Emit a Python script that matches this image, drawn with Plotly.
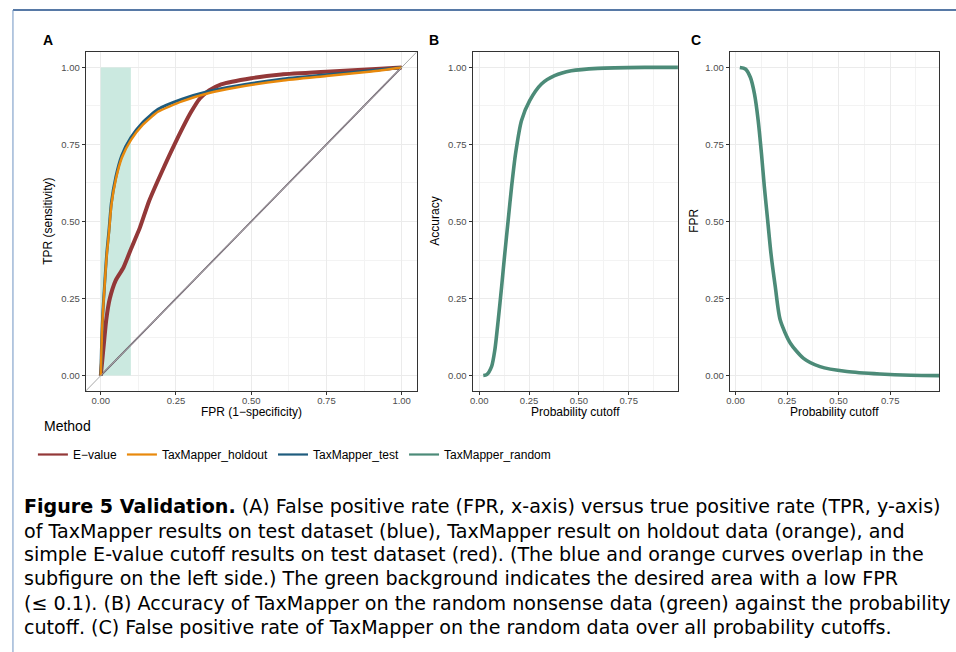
import plotly.graph_objects as go

# ---------------- data ----------------
fpr_evalue = [0, 0.005, 0.01, 0.018, 0.03, 0.05, 0.075, 0.10, 0.13, 0.16, 0.20, 0.25, 0.30, 0.33, 0.36, 0.40, 0.50, 0.60, 0.75, 0.90, 1.0]
tpr_evalue = [0, 0.05, 0.10, 0.18, 0.25, 0.31, 0.35, 0.41, 0.48, 0.565, 0.655, 0.76, 0.855, 0.90, 0.925, 0.945, 0.965, 0.977, 0.986, 0.994, 1.0]

fpr_test = [0, 0.002, 0.005, 0.009, 0.015, 0.02, 0.027, 0.035, 0.05, 0.07, 0.10, 0.14, 0.19, 0.27, 0.36, 0.45, 0.60, 0.75, 0.90, 1.0]
tpr_test = [0, 0.08, 0.17, 0.24, 0.33, 0.40, 0.47, 0.56, 0.645, 0.715, 0.772, 0.822, 0.864, 0.897, 0.923, 0.940, 0.962, 0.976, 0.990, 1.0]

fpr_holdout = [0, 0.002, 0.005, 0.009, 0.015, 0.02, 0.027, 0.035, 0.05, 0.07, 0.10, 0.14, 0.19, 0.27, 0.36, 0.45, 0.60, 0.75, 0.90, 1.0]
tpr_holdout = [0, 0.075, 0.165, 0.235, 0.325, 0.393, 0.462, 0.552, 0.637, 0.707, 0.764, 0.814, 0.856, 0.890, 0.917, 0.935, 0.957, 0.972, 0.987, 1.0]

fpr_random = [0, 0.25, 0.50, 0.75, 1.0]
tpr_random = [0, 0.25, 0.50, 0.75, 1.0]

cutoff_b = [0.02, 0.037, 0.062, 0.078, 0.095, 0.112, 0.128, 0.145, 0.162, 0.182, 0.212, 0.253, 0.312, 0.378, 0.462, 0.595, 0.83, 1.0]
accuracy_b = [0, 0.003, 0.03, 0.083, 0.18, 0.288, 0.396, 0.504, 0.612, 0.72, 0.828, 0.892, 0.946, 0.973, 0.989, 0.997, 1.0, 1.0]

cutoff_c = [0.021, 0.048, 0.072, 0.092, 0.11, 0.126, 0.14, 0.156, 0.172, 0.193, 0.217, 0.266, 0.33, 0.41, 0.54, 0.70, 0.85, 1.0]
fpr_c = [1.0, 0.995, 0.968, 0.914, 0.828, 0.72, 0.612, 0.504, 0.396, 0.288, 0.18, 0.105, 0.056, 0.029, 0.013, 0.005, 0.001, 0.0]

tick_vals = [0, 0.25, 0.5, 0.75, 1.0]
methods = ["E\u2212value", "TaxMapper_holdout", "TaxMapper_test", "TaxMapper_random"]
colors = {"E\u2212value": "#933838", "TaxMapper_holdout": "#E8890C",
          "TaxMapper_test": "#1F5C7E", "TaxMapper_random": "#4C8B78"}

caption_lines = [
    "<b>Figure 5 Validation.</b> (A) False positive rate (FPR, x-axis) versus true positive rate (TPR, y-axis)",
    "of TaxMapper results on test dataset (blue), TaxMapper result on holdout data (orange), and",
    "simple E-value cutoff results on test dataset (red). (The blue and orange curves overlap in the",
    "subfigure on the left side.) The green background indicates the desired area with a low FPR",
    "(\u2264 0.1). (B) Accuracy of TaxMapper on the random nonsense data (green) against the probability",
    "cutoff. (C) False positive rate of TaxMapper on the random data over all probability cutoffs.",
]

# ---------------- figure ----------------
W, H = 956, 652
def px(x): return x / W
def py(y): return 1 - y / H

fig = go.Figure()

# Panel A
fig.add_trace(go.Scatter(x=fpr_random, y=tpr_random, mode="lines", line=dict(color="#5E4E5E", width=1.6),
                         showlegend=False, xaxis="x", yaxis="y", hoverinfo="skip"))
fig.add_trace(go.Scatter(x=fpr_evalue, y=tpr_evalue, mode="lines", name=methods[0], showlegend=False,
                         line=dict(color=colors[methods[0]], width=4, shape="spline", smoothing=0.5),
                         xaxis="x", yaxis="y"))
fig.add_trace(go.Scatter(x=fpr_test, y=tpr_test, mode="lines", name=methods[2], showlegend=False,
                         line=dict(color=colors[methods[2]], width=3, shape="spline", smoothing=0.5),
                         xaxis="x", yaxis="y"))
fig.add_trace(go.Scatter(x=fpr_holdout, y=tpr_holdout, mode="lines", name=methods[1], showlegend=False,
                         line=dict(color=colors[methods[1]], width=2.5, shape="spline", smoothing=0.5),
                         xaxis="x", yaxis="y"))
# Panel B
fig.add_trace(go.Scatter(x=cutoff_b, y=accuracy_b, mode="lines", name=methods[3], showlegend=False,
                         line=dict(color=colors[methods[3]], width=3.6, shape="spline", smoothing=0.7),
                         xaxis="x2", yaxis="y2"))
# Panel C
fig.add_trace(go.Scatter(x=cutoff_c, y=fpr_c, mode="lines", name=methods[3], showlegend=False,
                         line=dict(color=colors[methods[3]], width=3.6, shape="spline", smoothing=0.7),
                         xaxis="x3", yaxis="y3"))
# legend entries (thin keys like ggplot)
for m in methods:
    fig.add_trace(go.Scatter(x=[None], y=[None], mode="lines", name=m,
                             line=dict(color=colors[m], width=2.2), xaxis="x", yaxis="y"))

grid_major = "#EBEBEB"
grid_minor = "#F3F3F3"
font_main = "Liberation Sans, Arial, sans-serif"
tickfont = dict(family=font_main, size=9.5, color="#4D4D4D")

def axis_common(domain, rng, anchor, is_x):
    d = dict(domain=domain, range=rng, anchor=anchor, tickvals=tick_vals, tickformat=".2f",
             ticks="outside", ticklen=3, tickwidth=1, tickcolor="#333333",
             showline=True, linecolor="#333333", linewidth=1, mirror=True,
             showgrid=True, gridcolor=grid_major, gridwidth=1.1, zeroline=False,
             minor=dict(dtick=0.125, tick0=0.125, showgrid=True, gridcolor=grid_minor, gridwidth=0.6, ticks=""),
             tickfont=tickfont)
    if is_x:
        d["ticklabelstandoff"] = -2
    return d

ydom = [py(391), py(52)]
fig.update_layout(
    xaxis=axis_common([px(83), px(415)], [-0.05, 1.05], "y", True),
    yaxis=axis_common(ydom, [-0.05, 1.05], "x", False),
    xaxis2=axis_common([px(471), px(677)], [-0.034, 0.997], "y2", True),
    yaxis2=axis_common(ydom, [-0.05, 1.05], "x2", False),
    xaxis3=axis_common([px(729), px(939)], [-0.028, 0.987], "y3", True),
    yaxis3=axis_common(ydom, [-0.05, 1.05], "x3", False),
)

shapes = [
    dict(type="rect", xref="x", yref="y", x0=0, x1=0.1, y0=0, y1=1, fillcolor="#CBE9E0",
         line=dict(width=0), layer="between"),
    dict(type="line", xref="x", yref="y", x0=-0.05, y0=-0.05, x1=1.05, y1=1.05,
         line=dict(color="#A8A8A8", width=1)),
    dict(type="line", xref="paper", yref="paper", x0=px(10), x1=1.0, y0=py(10), y1=py(10),
         line=dict(color="#1F4C88", width=1.6)),
    dict(type="line", xref="paper", yref="paper", x0=px(10), x1=px(10), y0=py(10), y1=0,
         line=dict(color="#6F93C2", width=1)),
]

ann = []
for label, x in [("A", 45), ("B", 432), ("C", 695)]:
    ann.append(dict(text=f"<b>{label}</b>", x=px(x), y=py(40), xref="paper", yref="paper",
                    showarrow=False, xanchor="center", yanchor="middle",
                    font=dict(family=font_main, size=14, color="black")))
titles = [
    dict(text="TPR (sensitivity)", x=px(45), y=py(221), textangle=-90),
    dict(text="FPR (1\u2212specificity)", x=px(249), y=py(412)),
    dict(text="Accuracy", x=px(433), y=py(221), textangle=-90),
    dict(text="Probability cutoff", x=px(574), y=py(412)),
    dict(text="FPR", x=px(693), y=py(221), textangle=-90),
    dict(text="Probability cutoff", x=px(834), y=py(412)),
]
for a in titles:
    a.update(xref="paper", yref="paper", showarrow=False, xanchor="center", yanchor="middle",
             font=dict(family=font_main, size=12, color="black"))
ann += titles
ann.append(dict(text="Method", x=px(39), y=py(426), xref="paper", yref="paper", showarrow=False,
                xanchor="left", yanchor="middle", font=dict(family=font_main, size=14, color="black")))

cap_font = "DejaVu Sans, Liberation Sans, sans-serif"
cap_y = [507, 531, 554, 578, 603, 627]
for line, yy in zip(caption_lines, cap_y):
    ann.append(dict(text=line, x=px(19), y=py(yy), xref="paper", yref="paper", showarrow=False,
                    xanchor="left", yanchor="middle",
                    font=dict(family=cap_font, size=19.1, color="black")))

fig.update_layout(
    width=W, height=H, margin=dict(l=0, r=0, t=0, b=0),
    paper_bgcolor="white", plot_bgcolor="white",
    shapes=shapes, annotations=ann,
    showlegend=True,
    legend=dict(orientation="h", x=px(30), y=py(440), xanchor="left", yanchor="top",
                font=dict(family=font_main, size=12, color="black"),
                bgcolor="rgba(0,0,0,0)", traceorder="normal", itemwidth=30),
)

fig.write_html("out.html", config={"displayModeBar": False},
               post_script="document.body.style.margin='0px';document.body.style.padding='0px';")
